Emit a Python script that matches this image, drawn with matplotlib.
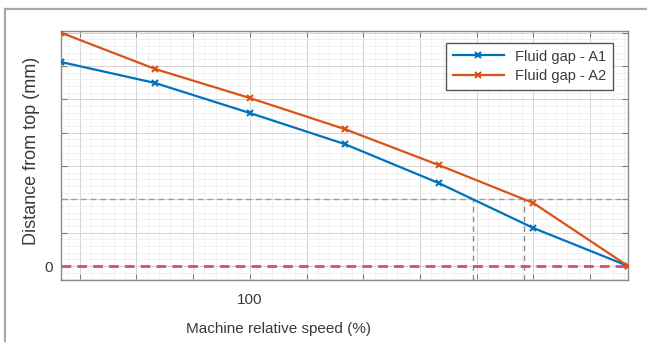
import numpy as np
import matplotlib.pyplot as plt
from matplotlib.ticker import AutoMinorLocator
from matplotlib.lines import Line2D

plt.rcParams['font.family'] = ['Liberation Sans', 'DejaVu Sans']

# data
SPEED = [66.7, 83.3, 100.0, 116.7, 133.3, 150.0, 166.7]
GAP_A1 = [6.12, 5.49, 4.59, 3.66, 2.49, 1.14, 0.0]
GAP_A2 = [7.00, 5.91, 5.04, 4.11, 3.03, 1.89, 0.0]
LIMIT = 2.0
X_TICKS = [70, 80, 90, 100, 110, 120, 130, 140, 150, 160]
X_LABELS = ['', '', '', '100', '', '', '', '', '', '']
Y_TICKS = [0, 1, 2, 3, 4, 5, 6, 7]
Y_LABELS = ['0', '', '', '', '', '', '', '']

BLUE = '#0072BD'
ORANGE = '#D95319'
TXT = '#3a3a3a'

fig = plt.figure(figsize=(6.47, 3.42), dpi=100)
ax = fig.add_axes([61/647, 1-280/342, (628-61)/647, (280-31)/342])

# frame around the picture (top + left edges visible)
fig.add_artist(Line2D([5/647, 1.0], [1-9/342, 1-9/342], color='#a8a8a8', lw=1.6))
fig.add_artist(Line2D([5/647, 5/647], [0.0, 1-9/342], color='#a8a8a8', lw=1.6))

ax.set_xlim(SPEED[0], SPEED[-1])
ax.set_ylim(-0.42, 7.05)

ax.xaxis.set_minor_locator(AutoMinorLocator(5))
ax.yaxis.set_minor_locator(AutoMinorLocator(5))
ax.set_xticks(X_TICKS)
ax.set_xticklabels(X_LABELS)
ax.set_yticks(Y_TICKS)
ax.set_yticklabels(Y_LABELS)
ax.grid(which='major', color='#d4d4d4', lw=0.7)
ax.grid(which='minor', color='#ececec', lw=0.5)
ax.set_axisbelow(True)
ax.tick_params(which='major', direction='in', length=4, top=True, right=True,
               colors='#7a7a7a', labelcolor=TXT, labelsize=11)
ax.tick_params(axis='x', pad=9.5)
ax.tick_params(axis='y', pad=6)
ax.tick_params(which='minor', length=0)
for s in ax.spines.values():
    s.set_color('#8a8a8a')
    s.set_linewidth(1.0)

# threshold guides
ax.axhline(LIMIT, color='#9a9a9a', lw=1.0, ls=(0, (4, 3)), zorder=1.5)
for ys in (GAP_A1, GAP_A2):
    xc = np.interp(LIMIT, ys[::-1], SPEED[::-1])
    ax.plot([xc, xc], [-0.42, LIMIT], color='#8a8a8a', lw=1.0, ls=(0, (4, 3)), zorder=1.5)

ax.axhline(0, color='#dc4a74', lw=2.0, dashes=(3.5, 2.2), zorder=2)

ax.plot(SPEED, GAP_A1, color=BLUE, lw=1.6, marker='x', ms=5, mew=1.5, label='Fluid gap - A1', zorder=3)
ax.plot(SPEED, GAP_A2, color=ORANGE, lw=1.6, marker='x', ms=5, mew=1.5, label='Fluid gap - A2', zorder=3)

ax.set_xlabel('Machine relative speed (%)', fontsize=11, color=TXT)
ax.xaxis.set_label_coords(0.383, -0.169)
ax.set_ylabel('Distance from top (mm)', fontsize=13, color=TXT)
ax.yaxis.set_label_coords(-0.037, 0.52)

leg = ax.legend(loc='upper right', fontsize=10.5, frameon=True, fancybox=False,
                edgecolor='#555555', framealpha=1, handlelength=3.5,
                borderpad=0.45, labelspacing=0.4, borderaxespad=0,
                bbox_to_anchor=(0.9735, 0.952))
leg.get_frame().set_linewidth(1.0)
for t in leg.get_texts():
    t.set_color(TXT)

fig.savefig('out.png', dpi=100)
